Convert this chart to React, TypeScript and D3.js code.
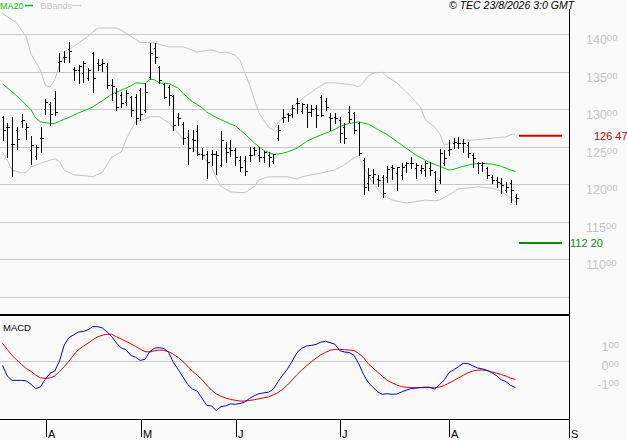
import React from "react";
import { scaleLinear, line } from "d3";

// daily bars, [open, high, low, close]
const ohlc: [number, number, number, number][] = [
  [128.9, 129.07, 125.96, 127.2], [127.56, 128.18, 123.64, 127.64], [125.42, 128.89, 121.16, 125.42],
  [127.2, 127.64, 124.76, 126.09], [128.44, 129.42, 127.64, 128.62], [127.42, 128.18, 126.09, 127.56],
  [124.53, 126.4, 122.76, 125.2], [123.73, 125.2, 123.42, 124.98], [126.22, 127.64, 124.31, 126.22],
  [129.96, 131.29, 129.42, 130.98], [130.67, 130.98, 127.87, 129.42], [131.42, 132.4, 129.2, 129.64],
  [136.31, 137.51, 135.11, 136.4], [136.98, 137.78, 136.31, 136.89], [137.96, 138.98, 136.22, 137.78],
  [135.29, 135.56, 133.87, 135.2], [135.2, 135.87, 133.51, 135.73], [134.84, 136.44, 133.64, 136.09],
  [134.09, 135.42, 133.87, 135.2], [137.42, 137.64, 132.31, 134.09], [136.09, 136.62, 135.2, 135.87],
  [136.0, 136.62, 135.11, 136.09], [135.73, 136.09, 132.76, 133.2], [133.2, 133.96, 131.2, 133.07],
  [132.09, 132.76, 129.87, 130.22], [131.87, 132.31, 130.22, 130.76], [130.98, 132.53, 130.53, 132.09],
  [131.56, 131.73, 129.07, 129.87], [131.64, 132.0, 128.0, 128.76], [132.53, 132.76, 128.53, 129.42],
  [129.87, 133.42, 129.64, 132.31], [134.31, 138.84, 133.96, 137.42], [138.09, 138.76, 136.09, 136.89],
  [135.56, 135.73, 133.51, 133.87], [133.33, 133.51, 131.42, 131.64], [132.98, 133.2, 130.53, 131.87],
  [131.73, 131.87, 127.2, 127.87], [128.89, 129.51, 127.87, 128.76], [128.0, 128.31, 125.42, 126.22],
  [126.31, 127.2, 122.67, 124.89], [126.09, 127.29, 124.44, 125.96], [127.07, 127.87, 123.87, 124.09],
  [124.09, 124.89, 123.42, 123.87], [124.09, 124.44, 120.89, 122.98], [124.0, 124.53, 122.53, 124.0],
  [124.0, 124.44, 121.33, 123.87], [122.53, 127.07, 122.4, 125.87], [124.79, 125.68, 123.02, 124.35],
  [124.79, 125.9, 123.77, 124.57], [124.57, 124.79, 122.58, 123.68], [123.24, 123.77, 121.82, 122.27],
  [123.24, 123.77, 121.25, 121.82], [123.91, 125.01, 123.15, 123.91], [124.79, 125.01, 123.91, 124.57],
  [123.91, 124.93, 123.15, 123.68], [123.6, 124.48, 123.02, 124.35], [123.91, 124.35, 122.44, 123.68],
  [123.15, 124.04, 122.89, 124.04], [126.12, 127.9, 125.9, 127.23], [128.78, 129.98, 128.34, 129.0],
  [129.36, 129.45, 128.47, 129.23], [129.36, 130.56, 129.0, 130.11], [130.78, 131.44, 129.54, 130.87],
  [129.8, 130.78, 129.45, 130.69], [130.33, 130.69, 127.67, 129.67], [129.67, 130.56, 129.09, 129.98],
  [130.11, 130.56, 127.67, 129.23], [131.66, 131.89, 129.09, 129.23], [131.13, 131.44, 129.89, 130.33],
  [129.0, 129.45, 127.23, 128.78], [129.0, 129.45, 128.12, 128.78], [128.56, 129.0, 125.68, 126.79],
  [127.67, 128.12, 125.46, 126.12], [129.67, 130.42, 128.34, 128.65], [129.45, 129.67, 126.79, 127.23],
  [128.12, 128.34, 123.91, 124.22], [123.24, 123.46, 118.72, 119.61], [120.14, 122.13, 119.25, 121.25],
  [121.03, 122.0, 120.14, 121.38], [120.67, 121.25, 119.78, 120.58], [121.03, 121.25, 118.28, 118.81],
  [121.03, 122.44, 120.36, 122.0], [122.27, 122.58, 120.67, 122.13], [121.47, 122.35, 119.25, 122.27],
  [121.25, 122.8, 120.67, 122.27], [122.58, 123.02, 121.69, 122.8], [122.8, 123.68, 122.13, 122.89],
  [122.13, 122.89, 120.8, 122.58], [121.91, 122.58, 121.47, 122.13], [121.91, 123.15, 121.11, 122.8],
  [122.13, 123.02, 121.25, 121.91], [121.69, 121.82, 119.03, 119.25], [120.58, 124.66, 120.14, 124.13],
  [122.8, 124.57, 122.58, 123.46], [124.57, 125.9, 123.91, 124.66], [125.46, 126.12, 124.79, 125.68],
  [125.55, 126.26, 124.79, 125.46], [125.46, 125.99, 124.35, 125.55], [125.24, 125.68, 123.68, 124.13],
  [123.91, 124.13, 122.35, 123.46], [122.8, 123.02, 121.47, 122.8], [122.58, 123.02, 121.82, 122.8],
  [122.13, 122.35, 120.8, 121.25], [120.94, 121.25, 120.23, 120.58], [120.58, 121.03, 119.61, 120.36],
  [120.14, 120.8, 118.81, 119.92], [119.25, 120.36, 119.03, 119.61], [120.14, 120.58, 117.7, 119.25],
  [118.37, 118.72, 117.39, 118.14],
];

// [bar index, value]
const ma20: [number, number][] = [
  [0, 133.4], [2, 132.3], [4, 131.2], [6, 129.9], [7, 128.8], [8, 128.3], [10, 128.1], [11, 128.1],
  [12, 128.4], [14, 128.9], [16, 129.5], [18, 130.0], [19, 130.3], [21, 131.1], [23, 132.0], [25, 132.5],
  [27, 133.1], [28, 133.5], [30, 133.4], [31, 134.0], [32, 133.9], [33, 133.5], [35, 133.4], [37, 132.8],
  [38, 132.1], [40, 131.0], [42, 130.2], [43, 129.6], [45, 128.9], [46, 128.6], [48, 128.0], [49, 127.8],
  [51, 126.7], [53, 125.5], [55, 124.5], [57, 124.0], [58, 124.0], [60, 124.3], [62, 124.8], [64, 125.7],
  [66, 126.3], [68, 126.8], [70, 127.3], [71, 127.7], [73, 128.1], [75, 128.3], [77, 128.0], [79, 127.3],
  [81, 126.6], [83, 125.7], [85, 124.8], [87, 123.9], [89, 123.2], [90, 122.9], [92, 122.4], [94, 121.9],
  [95, 122.0], [97, 122.4], [99, 122.7], [101, 122.8], [103, 122.7], [105, 122.4], [107, 121.9], [108, 121.7],
];

const bandUpper: [number, number][] = [
  [0, 142.7], [3, 141.5], [5, 139.6], [6, 137.3], [8, 135.2], [9, 133.2], [10, 132.95], [11, 133.9],
  [12, 135.9], [14, 137.9], [16, 138.8], [18, 139.7], [20, 140.8], [24, 140.8], [25, 140.5], [26, 140.1],
  [29, 138.9], [32, 138.8], [35, 138.3], [38, 138.3], [41, 137.6], [44, 137.9], [46, 137.5], [47, 137.6],
  [49, 137.2], [50, 136.5], [51, 134.8], [52, 133.3], [53, 131.3], [54, 129.5], [56, 127.6], [57, 127.2],
  [58, 128.2], [60, 129.5], [62, 130.8], [64, 131.8], [66, 132.7], [68, 133.5], [70, 133.5], [72, 133.35],
  [74, 133.2], [75, 132.95], [76, 133.6], [77, 134.4], [78, 134.8], [80, 134.9], [81, 134.3], [83, 133.5],
  [85, 132.3], [87, 131.0], [88, 130.2], [89, 128.6], [91, 127.6], [92, 126.8], [93, 125.2], [95, 125.6],
  [97, 125.9], [99, 125.9], [101, 126.0], [104, 126.2], [106, 126.3], [107, 126.6], [108, 126.7],
];

const bandLower: [number, number][] = [
  [0, 124.3], [1, 123.2], [2, 121.9], [4, 121.5], [5, 121.6], [6, 122.3], [8, 122.8], [11, 123.4],
  [12, 123.0], [13, 121.9], [15, 121.25], [18, 121.1], [19, 121.0], [21, 121.6], [22, 122.6], [23, 123.6],
  [25, 124.3], [26, 125.9], [27, 127.2], [28, 128.3], [30, 128.7], [31, 129.0], [33, 129.0], [35, 128.2],
  [37, 126.8], [39, 125.2], [42, 123.9], [44, 122.3], [45, 120.9], [46, 119.7], [48, 119.0], [50, 118.9],
  [51, 118.9], [53, 119.7], [54, 120.6], [56, 121.0], [58, 121.0], [60, 121.0], [62, 120.7], [63, 121.0],
  [65, 121.25], [67, 121.5], [70, 121.9], [72, 122.6], [74, 123.5], [75, 123.8], [76, 122.3], [78, 120.2],
  [80, 118.6], [82, 117.9], [85, 117.5], [87, 117.7], [89, 117.9], [91, 117.8], [92, 117.9], [94, 118.6],
  [96, 119.4], [98, 119.5], [100, 119.65], [103, 119.5], [105, 119.1], [106, 118.6], [108, 117.7],
];

const macdLine: [number, number][] = [
  [0, -0.23], [1, -0.8], [2, -1.03], [4, -1.03], [5, -1.06], [6, -1.24], [7, -1.47], [8, -1.37],
  [9, -0.97], [10, -0.66], [11, -0.53], [12, 0.0], [13, 0.85], [14, 1.25], [16, 1.54], [17, 1.57],
  [18, 1.66], [19, 1.83], [20, 1.83], [21, 1.76], [22, 1.55], [23, 1.3], [24, 0.95], [25, 0.69],
  [26, 0.6], [27, 0.3], [28, 0.2], [29, 0.03], [30, 0.09], [31, 0.5], [32, 0.68], [33, 0.71],
  [34, 0.66], [35, 0.45], [36, -0.09], [37, -0.45], [38, -0.85], [39, -1.25], [40, -1.5], [41, -1.6],
  [42, -1.98], [43, -2.36], [44, -2.39], [45, -2.64], [46, -2.42], [47, -2.39], [48, -2.28], [49, -2.3],
  [50, -2.26], [51, -2.18], [52, -2.0], [53, -1.84], [54, -1.74], [56, -1.66], [57, -1.5], [58, -1.1],
  [59, -0.75], [60, -0.42], [61, 0.0], [62, 0.45], [63, 0.68], [64, 0.8], [65, 0.83], [66, 0.88],
  [67, 1.0], [68, 1.05], [69, 0.97], [70, 0.89], [71, 0.55], [72, 0.48], [73, 0.45], [74, 0.3],
  [75, -0.15], [76, -0.71], [77, -1.15], [78, -1.4], [79, -1.65], [80, -1.77], [81, -1.74], [82, -1.77],
  [83, -1.76], [84, -1.65], [85, -1.55], [86, -1.47], [87, -1.44], [88, -1.41], [89, -1.39], [90, -1.4],
  [91, -1.5], [92, -1.26], [93, -1.0], [94, -0.62], [95, -0.46], [96, -0.3], [97, -0.12], [98, -0.14],
  [99, -0.25], [100, -0.37], [101, -0.42], [102, -0.5], [103, -0.62], [104, -0.78], [105, -1.0],
  [106, -1.1], [107, -1.3], [108, -1.42],
];

const signalLine: [number, number][] = [
  [0, 0.94], [1, 0.62], [2, 0.3], [3, 0.05], [4, -0.18], [5, -0.4], [6, -0.55], [7, -0.75], [8, -0.9],
  [9, -0.92], [10, -0.9], [11, -0.8], [12, -0.55], [13, -0.3], [14, 0.0], [15, 0.33], [16, 0.6],
  [17, 0.78], [18, 0.95], [19, 1.13], [20, 1.28], [21, 1.37], [22, 1.42], [23, 1.42], [24, 1.28],
  [25, 1.17], [26, 1.04], [27, 0.92], [28, 0.78], [29, 0.63], [30, 0.5], [31, 0.48], [32, 0.54],
  [33, 0.58], [34, 0.57], [35, 0.5], [36, 0.35], [37, 0.18], [38, -0.03], [39, -0.28], [40, -0.55],
  [41, -0.75], [42, -0.99], [43, -1.29], [44, -1.55], [45, -1.75], [46, -1.88], [47, -1.97], [48, -2.04],
  [49, -2.09], [50, -2.13], [51, -2.13], [52, -2.1], [53, -2.06], [54, -2.01], [56, -1.91], [57, -1.8],
  [58, -1.68], [59, -1.5], [60, -1.27], [61, -1.0], [62, -0.73], [63, -0.48], [64, -0.26], [65, -0.05],
  [66, 0.15], [67, 0.33], [68, 0.46], [69, 0.57], [70, 0.62], [71, 0.62], [72, 0.6], [73, 0.58],
  [74, 0.56], [75, 0.4], [76, 0.18], [77, -0.15], [78, -0.38], [79, -0.6], [80, -0.82], [81, -1.03],
  [82, -1.16], [83, -1.27], [84, -1.36], [85, -1.4], [86, -1.42], [88, -1.42], [90, -1.42], [91, -1.42],
  [92, -1.39], [93, -1.3], [94, -1.18], [95, -1.04], [96, -0.9], [97, -0.76], [98, -0.63], [99, -0.53],
  [100, -0.49], [101, -0.48], [102, -0.51], [103, -0.58], [104, -0.65], [105, -0.72], [106, -0.8],
  [107, -0.92], [108, -0.98],
];

const priceTicks = [140, 135, 130, 125, 120, 115, 110, 105];
const priceTickLabels = ["140", "135", "130", "125", "120", "115", "110", ""];
const macdTicks = [1, 0, -1];
const macdTickLabels = ["1", "0", "-1"];
// month starts, as positions on the bar index axis
const monthLabels = ["A", "M", "J", "J", "A", "S"];
const monthAt = [9.2, 29.1, 49.2, 71.1, 94.0, 119.2];

const resistance = { value: 126.47, text: ["126", "47"] };
const support = { value: 112.2, text: ["112", "20"] };

const FONT = "'Liberation Sans', Arial, sans-serif";
const W = 627;
const H = 440;
const RIGHT = 569;

export default function App() {
  const x = scaleLinear().domain([0, 108]).range([2.5, 515.5]);
  const y = scaleLinear().domain([105, 140]).range([297, 34]);
  const ym = scaleLinear().domain([0, 1]).range([361, 342.2]);

  const priceLine = line<[number, number]>()
    .x((d) => x(d[0]))
    .y((d) => y(d[1]));
  const macdPath = line<[number, number]>()
    .x((d) => x(d[0]))
    .y((d) => ym(d[1]));

  const px = (v: number) => Math.round(v) + 0.5;

  return (
    <div style={{ position: "fixed", left: 0, top: 0 }}>
      <svg width={W} height={H} style={{ display: "block", background: "#fafafa", fontFamily: FONT }}>
        <defs>
          <clipPath id="pricePanel">
            <rect x={0} y={9} width={RIGHT} height={305} />
          </clipPath>
          <clipPath id="macdPanel">
            <rect x={0} y={316} width={RIGHT} height={103} />
          </clipPath>
        </defs>

        {/* price grid */}
        {priceTicks.map((t) => (
          <line key={t} x1={0} x2={RIGHT} y1={px(y(t))} y2={px(y(t))} stroke="#c8c8c8" />
        ))}
        {priceTicks.map((t, i) =>
          priceTickLabels[i] ? (
            <text key={"l" + t} x={586} y={y(t) + 10} fontSize={12.5} fill="#c4c4c4">
              {priceTickLabels[i]}
              <tspan fontSize={9.5} dy={-3}>00</tspan>
            </text>
          ) : null
        )}

        <g clipPath="url(#pricePanel)" fill="none">
          <path d={priceLine(bandUpper) ?? ""} stroke="#c4c4c4" />
          <path d={priceLine(bandLower) ?? ""} stroke="#c4c4c4" />
          <path d={priceLine(ma20) ?? ""} stroke="#00c800" />
          {ohlc.map((b, i) => {
            const cx = px(x(i));
            return (
              <g key={i} stroke="#000" shapeRendering="crispEdges">
                <line x1={cx} x2={cx} y1={Math.round(y(b[1]))} y2={Math.round(y(b[2])) + 1} />
                <line x1={cx - 2} x2={cx} y1={px(y(b[0]))} y2={px(y(b[0]))} />
                <line x1={cx} x2={cx + 2} y1={px(y(b[3]))} y2={px(y(b[3]))} />
              </g>
            );
          })}
        </g>

        {/* resistance / support markers */}
        <line x1={519} x2={562} y1={y(resistance.value)} y2={y(resistance.value)} stroke="#d00000" strokeWidth={2} />
        <text x={594} y={y(resistance.value) + 4.5} fontSize={11} fill="#c00000">
          {resistance.text[0]}
          <tspan dx={3}>{resistance.text[1]}</tspan>
        </text>
        <line x1={519} x2={562} y1={y(support.value)} y2={y(support.value)} stroke="#009000" strokeWidth={2} />
        <text x={570} y={y(support.value) + 4.5} fontSize={11} fill="#009000">
          {support.text[0]}
          <tspan dx={3}>{support.text[1]}</tspan>
        </text>

        {/* legend */}
        <text x={0} y={8.5} fontSize={9} fill="#00c000">MA20</text>
        <line x1={25} x2={33} y1={5.5} y2={5.5} stroke="#00c000" strokeWidth={1.5} />
        <text x={40.5} y={8.5} fontSize={9} fill="#c4c4c4">BBands</text>
        <line x1={72} x2={81} y1={5.5} y2={5.5} stroke="#c4c4c4" />

        <text x={449} y={8.5} fontSize={10.5} fontStyle="italic" fill="#000">
          © TEC 23/8/2026 3:0 GMT
        </text>

        {/* MACD panel */}
        <line x1={0} x2={RIGHT} y1={px(ym(0))} y2={px(ym(0))} stroke="#c8c8c8" />
        {macdTicks.map((t, i) => (
          <text key={t} x={619} y={ym(t) + 9} fontSize={12.5} fill="#c4c4c4" textAnchor="end">
            {macdTickLabels[i]}
            <tspan fontSize={9.5} dy={-3}>00</tspan>
          </text>
        ))}
        <text x={3} y={331} fontSize={9.5} fill="#000">MACD</text>
        <g clipPath="url(#macdPanel)" fill="none">
          <path d={macdPath(signalLine) ?? ""} stroke="#dd0000" />
          <path d={macdPath(macdLine) ?? ""} stroke="#0000dd" />
        </g>

        {/* frame */}
        <rect x={0} y={314} width={RIGHT} height={2} fill="#000" />
        <line x1={0} x2={RIGHT} y1={419.5} y2={419.5} stroke="#000" />
        <line x1={RIGHT + 0.5} x2={RIGHT + 0.5} y1={9} y2={438} stroke="#000" />

        {/* month axis */}
        {monthAt.map((m, i) => (
          <g key={i}>
            <line x1={px(x(m))} x2={px(x(m))} y1={419} y2={437} stroke="#000" />
            <text x={px(x(m)) + 1.5} y={438} fontSize={11} fill="#000">{monthLabels[i]}</text>
          </g>
        ))}
      </svg>
    </div>
  );
}
